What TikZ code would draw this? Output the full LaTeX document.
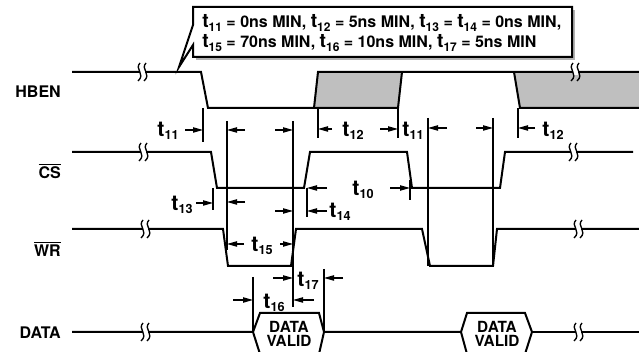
\documentclass[tikz,border=0pt]{standalone}
\usepackage{fontspec}
\setmainfont{TeX Gyre Heros}
\usepackage{tikz}
\usetikzlibrary{positioning, arrows.meta}

\newcommand\tm[1]{{\fontsize{16}{16}\selectfont t}\raisebox{-0.5ex}{\fontsize{9.5}{9.5}\selectfont #1}}
\newcommand\tk[1]{{\fontsize{14.5}{15}\selectfont t}\raisebox{-0.45ex}{\fontsize{9}{9}\selectfont #1}}

\tikzset{
  wave/.style={line width=1.5pt, line join=miter},
  tick/.style={line width=0.8pt},
  dim/.style={line width=0.8pt, -{Triangle[length=7.5pt,width=4pt]}},
  sig/.style={font=\bfseries\fontsize{12}{12}\selectfont, anchor=east, inner sep=0pt},
  tlab/.style={font=\bfseries, inner sep=0pt},
  valid/.style={font=\bfseries\fontsize{11.5}{10.5}\selectfont, align=center, inner sep=0pt},
  brk/.pic={
    \fill[white] (-2.5,-3) rectangle (2.5,3);
    \draw[line width=1pt] (-2,-9) .. controls (-8,-3) and (4,2) .. (-4,9);
    \draw[line width=1pt] (4,-9) .. controls (-2,-3) and (10,2) .. (2,9);
  }
}

\begin{document}
\begin{tikzpicture}[x=0.75pt, y=-0.75pt]
  \clip (0,0) rectangle (639,352);

  % signal names
  \node[sig] (hben) at (61,92) {HBEN};
  \node[sig] (cs) at (61,171) {$\overline{\hbox{CS}}$};
  \node[sig] (wr) at (61,249) {$\overline{\hbox{WR}}$};
  \node[sig] (data) at (61,333) {DATA};

  % callout
  \fill[gray!60] (196,10) rectangle (575,60);
  \filldraw[fill=white, line width=1.5pt, line join=miter] (193,7) -- (572,7) -- (572,57) -- (193,57)
    -- (193,45) -- (179,67) -- (193,25) -- cycle;
  \node[anchor=west, align=left, inner sep=0pt, font=\bfseries\fontsize{12}{15}\selectfont] (spec) at (202,33)
    {\tk{11} = 0ns MIN, \tk{12} = 5ns MIN, \tk{13} = \tk{14} = 0ns MIN,\\
     \tk{15} = 70ns MIN, \tk{16} = 10ns MIN, \tk{17} = 5ns MIN};

  % HBEN
  \fill[gray!50] (318,72) -- (402,72) -- (398,108) -- (314,108) -- cycle;
  \fill[gray!50] (514,72) -- (640,72) -- (640,108) -- (520,108) -- cycle;
  \draw[wave] (72,72) -- (201,72) -- (208,108) -- (314,108) -- (318,72) -- (640,72);
  \draw[wave] (314,108) -- (398,108) -- (402,72);
  \draw[wave] (514,72) -- (520,108) -- (640,108);

  % CS
  \draw[wave] (72,152) -- (211,152) -- (217,188) -- (304,188) -- (310,152) -- (407,152)
    -- (412,188) -- (500,188) -- (505,152) -- (633,152);

  % WR
  \draw[wave] (72,229) -- (223,229) -- (228,266) -- (291,266) -- (296,229) -- (422,229)
    -- (430,266) -- (493,266) -- (497,229) -- (640,229);

  % DATA
  \draw[wave] (72,332) -- (253,332) -- (260,313) -- (319,313) -- (324,332) -- (319,354) -- (260,354) -- (253,332);
  \draw[wave] (324,332) -- (461,332) -- (467,313) -- (525,313) -- (532,332) -- (525,354) -- (467,354) -- (461,332);
  \draw[wave] (532,332) -- (640,332);
  \node[valid] (dv1) at (289,334) {DATA\\VALID};
  \node[valid] (dv2) at (497,334) {DATA\\VALID};

  % breaks
  \foreach \x/\y in {142/72, 575/72, 143/152, 573/152, 145/229, 578/229, 145/332, 578/332}
    \pic at (\x,\y) {brk};

  % reference lines
  \foreach \x/\ya/\yb in {203/108/142, 227/121/250, 293/121/307, 318/108/138, 398/108/138,
      428/118/266, 493/118/266, 518/108/138, 213/188/210, 307/188/217, 410/180/200,
      324/269/332, 253/277/332}
    \draw[tick] (\x,\ya) -- (\x,\yb);

  % timing arrows
  \foreach \xa/\xb/\y in {185/203/130, 245/227/130, 275/293/130, 332/318/129, 380/398/129,
      447/428/128, 476/493/128, 535/518/128, 327/307/188, 390/410/188, 196/213/203,
      245/227/202, 275/293/211, 327/307/211, 244/227/244, 280/293/244, 273/293/278,
      343/324/278, 233/253/300, 314/293/300}
    \draw[dim] (\xa,\y) -- (\xb,\y);

  % timing labels
  \node[tlab] (t11a) at (168,131) {\tm{11}};
  \node[tlab] (t12a) at (353,131) {\tm{12}};
  \node[tlab] (t11b) at (413,131) {\tm{11}};
  \node[tlab] (t12b) at (553,131) {\tm{12}};
  \node[tlab] (t10) at (363,190) {\tm{10}};
  \node[tlab] (t13) at (182,205) {\tm{13}};
  \node[tlab] (t14) at (340,212) {\tm{14}};
  \node[tlab] (t15) at (262,246) {\tm{15}};
  \node[tlab] (t17) at (308,281) {\tm{17}};
  \node[tlab] (t16) at (274,303) {\tm{16}};
\end{tikzpicture}
\end{document}
